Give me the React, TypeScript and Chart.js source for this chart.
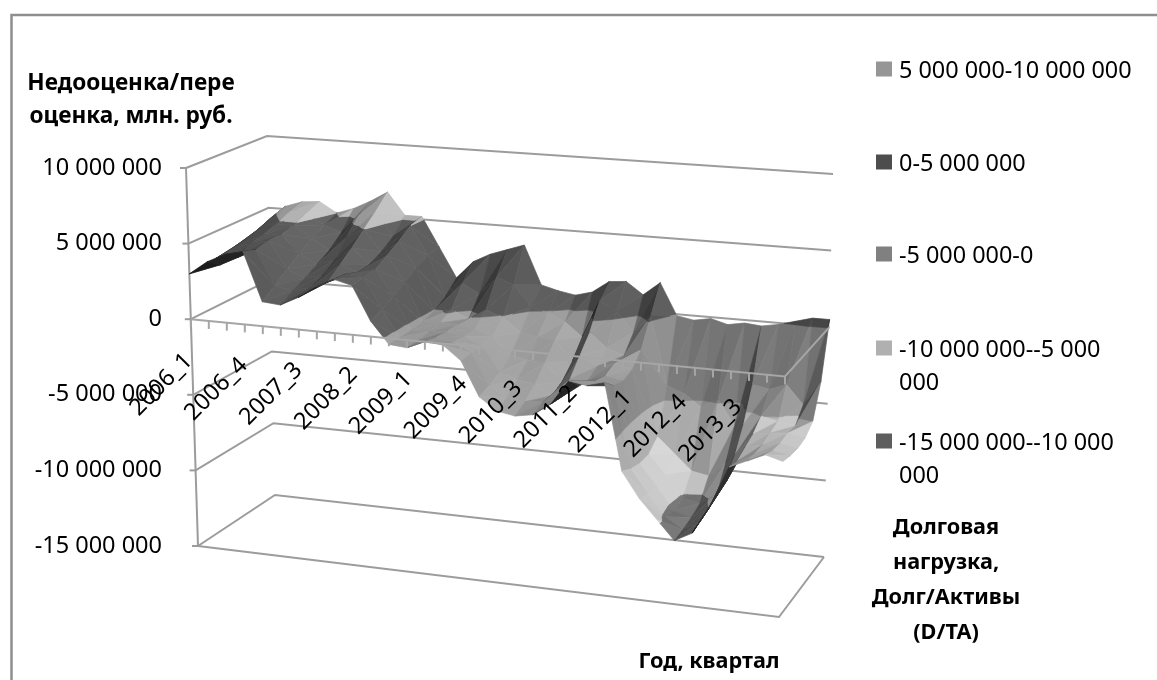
import React, { useEffect, useRef } from "react";
import { Chart, registerables } from "chart.js";

Chart.register(...registerables);

// Quarters along the category axis; one label is printed every third quarter.
const quarters: string[] = [];
for (let year = 2006; year <= 2014; year++) {
  for (let q = 1; q <= 4; q++) quarters.push(`${year}_${q}`);
}
const quarterCount = 34;
const labelStep = 3;

// Undervaluation/overvaluation in millions of roubles, one row per debt-load level (front to back).
const debtLevel1 = [3.0,3.9,4.5,4.8,1.6,1.5,2.1,2.9,3.5,3.2,1.0,-0.4,-0.5,0,-0.1,-1.0,-3.2,-4.0,-4.2,-4.0,-3.2,-1.6,-1.8,-1.5,-7,-8.6,-9.8,-11,-10.4,-8.5,-6,-5.5,-5,-5.3];
const debtLevel2 = [3.0,3.3,3.9,4.5,2.2,2.0,2.3,2.8,3.4,3.3,1.3,-0.4,-0.5,-0.2,-0.4,-1.0,-3.0,-3.6,-3.8,-3.7,-3.3,-2.4,-2.0,-2.2,-7.4,-8.9,-10.2,-10.9,-10.2,-8.3,-6.2,-5.6,-5.3,-5.5];
const debtLevel3 = [3.2,4.0,4.4,4.7,2.9,2.4,2.7,3.5,3.1,3.4,1.7,-0.4,-0.4,-0.3,-0.5,-1.0,-2.6,-3.0,-3.2,-3.8,-2.6,-2.6,-2.2,-2.4,-7.6,-9.0,-10.4,-10.7,-10.0,-8.1,-5.9,-5.6,-5.4,-5.6];
const debtLevel4 = [3.3,4.2,4.6,4.7,3.5,2.9,3.3,4.2,3.2,3.9,2.2,-0.3,-0.3,-0.3,-0.5,-0.9,-2.0,-2.2,-2.3,-3.4,-1.6,-2.2,-1.9,-2.2,-7.6,-8.8,-10.2,-10.4,-9.6,-7.0,-5.6,-5.4,-5.3,-5.5];
const debtLevel5 = [3.4,4.5,4.9,4.9,4.1,3.4,4.4,5.0,3.6,4.4,2.7,-0.1,0.1,-0.4,0.3,-0.1,-1.0,-1.2,-1.3,-2.6,-0.6,-1.5,-1.9,-1.4,-7.0,-8.0,-9.0,-9.2,-8.2,-5.6,-5.0,-5.2,-5.4,-5.0];
const debtLevel6 = [3.4,4.9,5.3,5.3,4.6,4.2,5.4,5.8,4.2,5.0,3.1,0.4,1.4,0.8,2.0,1.6,0.2,-0.1,-0.6,-1.5,1.0,0.4,-0.9,0.3,-4.2,-4.6,-5.4,-4.8,-6.4,-3.6,-3.8,-3.4,-4.6,-3.0];
const debtLevel7 = [3.5,5.2,5.6,5.7,5.0,5.4,6.0,6.7,5.2,5.2,3.2,1.2,2.4,3.0,3.4,3.8,1.2,0.9,0.7,1,1.8,1.9,1.1,2.0,-0.1,-0.3,-0.1,-0.4,-0.2,-0.3,-0.1,0.2,0.5,0.5];
const surfaceRows = [debtLevel1, debtLevel2, debtLevel3, debtLevel4, debtLevel5, debtLevel6, debtLevel7];

// Value axis ticks, and the value bands that colour the surface.
const valueTicks = [-15000000, -10000000, -5000000, 0, 5000000, 10000000];
const bandEdges = [-15, -10, -5, 0, 5, 10];
const bandColors = [[0x5e, 0x5e, 0x5e], [0xb0, 0xb0, 0xb0], [0x80, 0x80, 0x80], [0x4d, 0x4d, 0x4d], [0x96, 0x96, 0x96]];
const bandGain = [1, 0.92, 1, 1, 1];

const legendEntries = [
  { lines: ["5 000 000-10 000 000"], band: 4, y: 69 },
  { lines: ["0-5 000 000"], band: 3, y: 162 },
  { lines: ["-5 000 000-0"], band: 2, y: 254 },
  { lines: ["-10 000 000--5 000", "000"], band: 1, y: 348 },
  { lines: ["-15 000 000--10 000", "000"], band: 0, y: 441 },
];

const FONT = '"Noto Sans", sans-serif';
const GRID = "#9c9c9c";

// Cube corners of the 3D box in page pixels: front/back, left/right, floor/ceiling.
const box = {
  floor: { fl: [198, 546], fr: [779, 617], bl: [275, 495], br: [824, 557] },
  ceil: { fl: [186, 168], fr: [789, 216], bl: [267, 136], br: [833, 174] },
};

const PX_PER_UNIT = 75.6 / 5000000;
const pxToValue = (py: number) => 10000000 - (py - 168) / PX_PER_UNIT;

const mix = (a: number, b: number, t: number) => a + (b - a) * t;

// Oblique projection: u along quarters (0..1), v along depth (0..1), value in millions.
function project(u: number, v: number, value: number) {
  const t = (value + 15) / 25;
  const corner = (i: number) => {
    const f = mix(mix(box.floor.fl[i], box.floor.fr[i], u), mix(box.floor.bl[i], box.floor.br[i], u), v);
    const c = mix(mix(box.ceil.fl[i], box.ceil.fr[i], u), mix(box.ceil.bl[i], box.ceil.br[i], u), v);
    return mix(f, c, t);
  };
  return { x: corner(0), y: pxToValue(corner(1)) };
}

type V3 = { i: number; d: number; z: number };

const rowCount = surfaceRows.length;
const toPoint = (p: V3) => project(p.i / (quarterCount - 1), p.d / (rowCount - 1), p.z);

const signedArea = (pts: { x: number; y: number }[]) => {
  const [a, b, c] = pts;
  return (b.x - a.x) * (c.y - a.y) - (c.x - a.x) * (b.y - a.y);
};

// True when a facet is turned so that its underside faces the viewer.
function showsUnderside(tri: V3[]) {
  const flat = tri.map((p) => ({ ...p, z: 0 }));
  return signedArea(tri.map(toPoint)) * signedArea(flat.map(toPoint)) < 0;
}

function shadeColor(tri: V3[], band: number) {
  const [a, b, c] = tri;
  const scaleI = 18, scaleD = 20, scaleZ = 15.5;
  const ux = (b.i - a.i) * scaleI, uy = (b.d - a.d) * scaleD, uz = (b.z - a.z) * scaleZ;
  const vx = (c.i - a.i) * scaleI, vy = (c.d - a.d) * scaleD, vz = (c.z - a.z) * scaleZ;
  let nx = uy * vz - uz * vy, ny = uz * vx - ux * vz, nz = ux * vy - uy * vx;
  const len = Math.hypot(nx, ny, nz) || 1;
  if (nz < 0) { nx = -nx; ny = -ny; nz = -nz; }
  const dot = (nx * 0.55 - ny * 0.3 + nz * 0.78) / len;
  let f = (0.48 + 0.85 * Math.max(0, dot)) * bandGain[band];
  if (showsUnderside(tri)) f *= 0.6;
  const [r, g, bl] = bandColors[band].map((k) => Math.min(225, Math.round(k * f)));
  return `rgb(${r},${g},${bl})`;
}

// Keeps the part of a triangle whose value lies between two levels.
function clipToBand(poly: V3[], lo: number, hi: number) {
  const cut = (pts: V3[], level: number, keepAbove: boolean) => {
    const out: V3[] = [];
    pts.forEach((p, idx) => {
      const q = pts[(idx + 1) % pts.length];
      const pIn = keepAbove ? p.z >= level : p.z <= level;
      const qIn = keepAbove ? q.z >= level : q.z <= level;
      if (pIn) out.push(p);
      if (pIn !== qIn) {
        const t = (level - p.z) / (q.z - p.z);
        out.push({ i: mix(p.i, q.i, t), d: mix(p.d, q.d, t), z: level });
      }
    });
    return out;
  };
  return cut(cut(poly, lo, true), hi, false);
}

function surfaceDatasets() {
  const sets: any[] = [];
  const addTriangle = (tri: V3[]) => {
    for (let b = 0; b < bandColors.length; b++) {
      const poly = clipToBand(tri, bandEdges[b], bandEdges[b + 1]);
      if (poly.length < 3) continue;
      const color = shadeColor(tri, b);
      const pts = poly.map(toPoint);
      pts.push(pts[0]);
      sets.push({ data: pts, borderColor: color, backgroundColor: color, borderWidth: 0.7, fill: "shape", showLine: true, pointRadius: 0, tension: 0 });
    }
  };
  // Painted from the far corner towards the viewer.
  for (let d = rowCount - 2; d >= 0; d--) {
    for (let i = 0; i < quarterCount - 1; i++) {
      const v = (ii: number, dd: number): V3 => ({ i: ii, d: dd, z: surfaceRows[dd][ii] });
      addTriangle([v(i, d + 1), v(i + 1, d + 1), v(i, d)]);
      addTriangle([v(i + 1, d + 1), v(i + 1, d), v(i, d)]);
    }
  }
  return sets;
}

function wallDatasets() {
  const line = (data: { x: number; y: number }[]) => ({ data, borderColor: GRID, borderWidth: 2, fill: false, showLine: true, pointRadius: 0, tension: 0 });
  const sets = valueTicks.map((tick) => {
    const m = tick / 1000000;
    return line([project(0, 0, m), project(0, 1, m), project(1, 1, m)]);
  });
  sets.push(line([project(0, 0, -15), project(1, 0, -15), project(1, 1, -15)]));
  sets.push(line([project(0, 0, -15), project(0, 0, 10)]));
  return sets;
}

const drawTexts = {
  id: "surfaceAnnotations",
  afterDatasetsDraw(chart: any) {
    const { ctx, scales } = chart;
    const px = (p: { x: number; y: number }) => [scales.x.getPixelForValue(p.x), scales.y.getPixelForValue(p.y)];
    ctx.save();

    // Outer frame of the chart object.
    ctx.strokeStyle = "#8e8e8e";
    ctx.lineWidth = 2.5;
    ctx.beginPath();
    ctx.moveTo(11.5, 680);
    ctx.lineTo(11.5, 15);
    ctx.lineTo(1157, 15);
    ctx.stroke();

    // Category axis on the zero plane, with its tick marks, and the depth axis.
    ctx.strokeStyle = "#a6a6a6";
    ctx.lineWidth = 2;
    const [ax, ay] = px(project(0, 0, 0));
    const [bx, by] = px(project(1, 0, 0));
    const [cx, cy] = px(project(1, 1, 0));
    ctx.beginPath();
    ctx.moveTo(ax, ay);
    ctx.lineTo(bx, by);
    ctx.lineTo(cx, cy);
    ctx.stroke();
    for (let i = 0; i < quarterCount; i++) {
      const [tx, ty] = px(project(i / (quarterCount - 1), 0, 0));
      ctx.beginPath();
      ctx.moveTo(tx, ty);
      ctx.lineTo(tx, ty + 8);
      ctx.stroke();
    }

    // Tick marks beside the value axis.
    ctx.strokeStyle = GRID;
    for (const tick of valueTicks) {
      const [tx, ty] = px(project(0, 0, tick / 1000000));
      ctx.beginPath();
      ctx.moveTo(tx - 6, ty);
      ctx.lineTo(tx, ty);
      ctx.stroke();
    }

    // Slanted quarter labels.
    ctx.fillStyle = "#000";
    ctx.font = `23.5px ${FONT}`;
    ctx.textAlign = "right";
    ctx.textBaseline = "middle";
    for (let i = 0; i < quarterCount; i += labelStep) {
      if (i > 30) break;
      const [tx, ty] = px(project(i / (quarterCount - 1), 0, 0));
      ctx.save();
      ctx.translate(tx - 2 + i * 0.3, ty + 38 - i * 0.2);
      ctx.rotate(-Math.PI / 4);
      ctx.fillText(quarters[i], 0, 0);
      ctx.restore();
    }

    // Legend.
    ctx.textAlign = "left";
    ctx.font = `23.4px ${FONT}`;
    for (const entry of legendEntries) {
      const [r, g, b] = bandColors[entry.band];
      ctx.fillStyle = `rgb(${r},${g},${b})`;
      ctx.fillRect(876, entry.y - 7.5, 16, 15);
      ctx.fillStyle = "#000";
      entry.lines.forEach((text, n) => ctx.fillText(text, 899, entry.y + 2 + n * 33));
    }

    // Axis titles.
    ctx.textAlign = "center";
    ctx.font = `bold 22.6px ${FONT}`;
    ctx.fillText("Недооценка/пере", 131, 84);
    ctx.fillText("оценка, млн. руб.", 131, 117);
    ctx.font = `bold 21.7px ${FONT}`;
    ctx.fillText("Год, квартал", 709, 662);
    ["Долговая", "нагрузка,", "Долг/Активы", "(D/TA)"].forEach((text, n) => ctx.fillText(text, 946, 528 + n * 35));
    ctx.restore();
  },
};

export default function App() {
  const ref = useRef<HTMLCanvasElement>(null);
  useEffect(() => {
    const canvas = ref.current;
    if (!canvas) return;
    // Earlier datasets paint on top, so the nearest facets come first.
    const ordered = [...surfaceDatasets().reverse(), ...wallDatasets()];
    const chart = new Chart(canvas, {
      type: "scatter",
      data: { datasets: ordered },
      plugins: [drawTexts],
      options: {
        animation: false,
        responsive: false,
        layout: { padding: 0 },
        plugins: { legend: { display: false }, tooltip: { enabled: false } },
        scales: {
          x: { type: "linear", min: 170, max: 1157, display: false },
          y: {
            type: "linear",
            min: pxToValue(680),
            max: pxToValue(0),
            afterFit: (scale: any) => {
              scale.width = 170;
              scale.paddingTop = 0;
              scale.paddingBottom = 0;
            },
            afterBuildTicks: (scale: any) => { scale.ticks = valueTicks.map((value) => ({ value })); },
            grid: { display: false, drawTicks: false },
            border: { display: false },
            ticks: {
              autoSkip: false,
              padding: 8,
              color: "#000",
              font: { family: "Noto Sans", size: 23.5 },
              callback: (v: any) => {
                const n = Number(v);
                const body = Math.abs(n).toString().replace(/\B(?=(\d{3})+$)/g, " ");
                return n < 0 ? `-${body}` : body;
              },
            },
          },
        },
      },
    } as any);
    return () => chart.destroy();
  }, []);
  return (
    <div style={{ position: "absolute", left: 0, top: 0, width: 1157, height: 680, background: "#fff" }}>
      <canvas ref={ref} width={1157} height={680} style={{ display: "block" }} />
    </div>
  );
}
